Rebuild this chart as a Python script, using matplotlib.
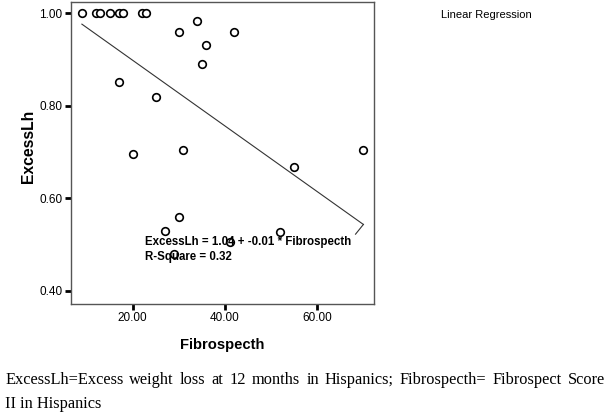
import numpy as np
import matplotlib
matplotlib.use("Agg")
import matplotlib.pyplot as plt

# Data
fibrospecth = [9, 12, 13, 15, 17, 18, 22, 23, 34, 30, 42, 36, 35, 17, 25, 20, 31, 70, 55, 30, 27, 52, 41, 29]
excess_lh   = [1.00, 1.00, 1.00, 1.00, 1.00, 1.00, 1.00, 1.00, 0.982, 0.96, 0.96, 0.93, 0.89, 0.852, 0.818,
               0.695, 0.704, 0.704, 0.668, 0.56, 0.529, 0.526, 0.504, 0.479]
fit_intercept = 1.04
fit_slope = -0.0071
x_ticks = [20, 40, 60]
y_ticks = [0.40, 0.60, 0.80, 1.00]
equation_text = "ExcessLh = 1.04 + -0.01 * Fibrospecth\nR-Square = 0.32"
caption_line1 = "ExcessLh=Excess weight loss at 12 months in Hispanics; Fibrospecth= Fibrospect Score"
caption_line2 = "II in Hispanics"

plt.rcParams['font.family'] = ['Liberation Sans', 'DejaVu Sans']
serif = ['Liberation Serif', 'DejaVu Serif']

W, H = 609, 413
fig = plt.figure(figsize=(W / 100, H / 100), dpi=100)
left, right, top, bottom = 71, 374, 2, 304
ax = fig.add_axes([left / W, 1 - bottom / H, (right - left) / W, (bottom - top) / H])

ax.scatter(fibrospecth, excess_lh, s=30, facecolors='white', edgecolors='black', linewidths=1.2, zorder=3)

xs = np.array([min(fibrospecth), max(fibrospecth)])
ax.plot(xs, fit_intercept + fit_slope * xs, color='#333333', lw=0.8, zorder=2)
# small end hook as in the reference rendering
xe = max(fibrospecth)
ax.plot([xe, xe - 1.7], [fit_intercept + fit_slope * xe, fit_intercept + fit_slope * xe - 0.021],
        color='#333333', lw=0.8, zorder=2)

ax.set_xlim(6.64, 72.3)
ax.set_ylim(0.371, 1.024)
ax.set_xticks(x_ticks)
ax.set_xticklabels([f"{v:.2f}" for v in x_ticks])
ax.set_yticks(y_ticks)
ax.set_yticklabels([f"{v:.2f}" for v in y_ticks])
ax.tick_params(direction='out', length=4, width=2, labelsize=8.5, color='black', pad=2)
for sp in ax.spines.values():
    sp.set_color('#555555')
    sp.set_linewidth(1.0)

ax.text(22.6, 0.489, equation_text, fontsize=8.3, fontweight='bold', va='center', ha='left',
        linespacing=1.4, zorder=4)

fig.text(28 / W, 1 - 146 / H, "ExcessLh", rotation=90, fontsize=11.3, fontweight='bold', ha='center', va='center')
fig.text(222 / W, 1 - 345 / H, "Fibrospecth", fontsize=10.6, fontweight='bold', ha='center', va='center')
fig.text(441 / W, 1 - 15 / H, "Linear Regression", fontsize=8, ha='left', va='center')

# Justified first caption line
cap_size = 11.8
x0, x1 = 5, 605
words = caption_line1.split(" ")
renderer = fig.canvas.get_renderer()
objs = [fig.text(0, 0, w, fontsize=cap_size, family=serif, ha='left', va='baseline') for w in words]
widths = [o.get_window_extent(renderer).width for o in objs]
gap = (x1 - x0 - sum(widths)) / (len(words) - 1)
xpos = x0
for o, wd in zip(objs, widths):
    o.set_position((xpos / W, 1 - 384 / H))
    xpos += wd + gap
fig.text(x0 / W, 1 - 407.5 / H, caption_line2, fontsize=cap_size, family=serif, ha='left', va='baseline')

fig.savefig("out.png", dpi=100)
